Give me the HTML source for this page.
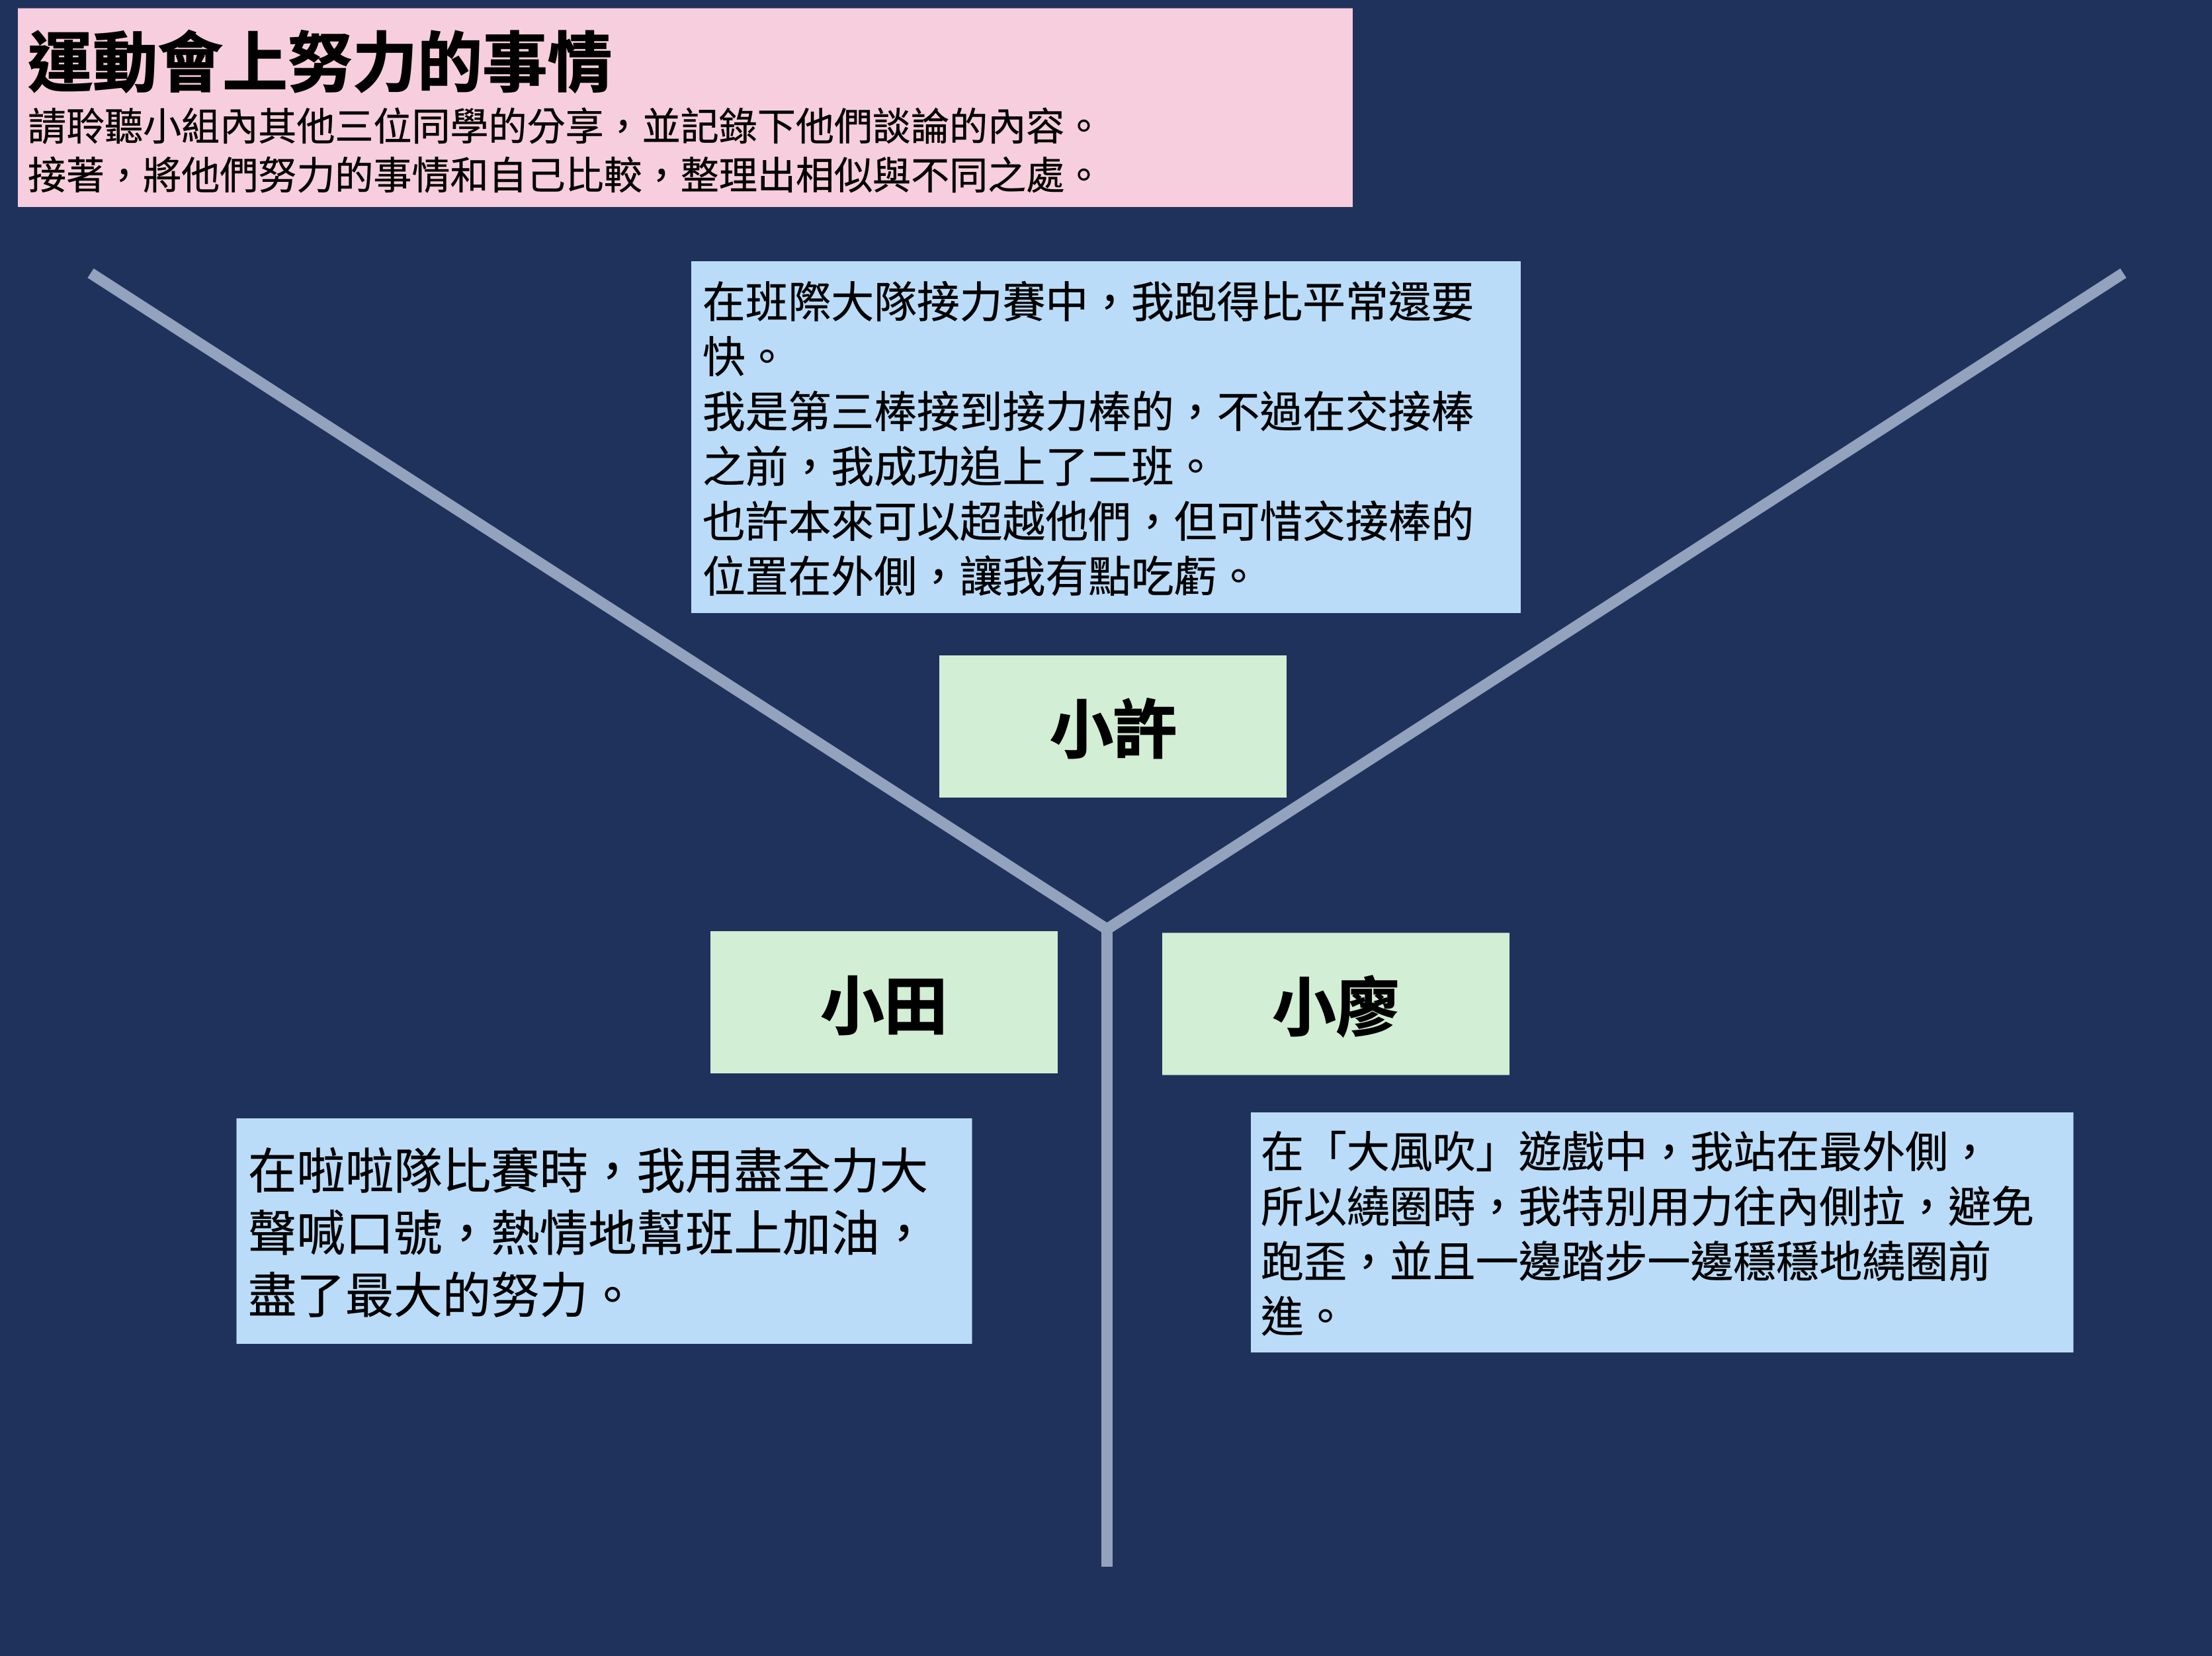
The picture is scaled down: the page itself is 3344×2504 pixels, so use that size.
<!DOCTYPE html>
<html lang="zh-Hant"><head><meta charset="utf-8"><title>運動會上努力的事情</title>
<style>
html,body{margin:0;padding:0;background:#1f325c;width:3344px;height:2504px;overflow:hidden}
svg{display:block}
text{font-family:"Liberation Sans","Noto Sans CJK TC",sans-serif;fill:#000;stroke:#000;stroke-width:.5px}
.t{font-size:64.8px}
.r{font-size:64.95px}
.l{font-size:73.45px}
.s{font-size:58.05px}
.b{font-size:98.2px;font-weight:700;stroke-width:1.6px}
.n{font-size:96px;font-weight:700;stroke-width:1.6px}
</style></head><body>
<svg xmlns="http://www.w3.org/2000/svg" width="3344" height="2504" viewBox="0 0 3344 2504">
<rect width="3344" height="2504" fill="#1f325c"/>
<g stroke="#93a3bd" stroke-width="17" fill="none">
<line x1="137" y1="413" x2="1673.5" y2="1405"/>
<line x1="3210" y1="413" x2="1673.5" y2="1405"/>
<line x1="1673.5" y1="1405" x2="1673.5" y2="2369"/>
</g>
<rect x="27" y="12.5" width="2018" height="300.5" fill="#f7cedd"/>
<text class="b" x="42" y="130">運動會上努力的事情</text>
<text class="s" x="42" y="212">請聆聽小組內其他三位同學的分享，並記錄下他們談論的內容。</text>
<text class="s" x="42" y="286">接著，將他們努力的事情和自己比較，整理出相似與不同之處。</text>

<rect x="1045" y="395" width="1254" height="532" fill="#badcf8"/>
<text class="t" x="1062" y="480">在班際大隊接力賽中，我跑得比平常還要</text>
<text class="t" x="1062" y="563">快。</text>
<text class="t" x="1062" y="646">我是第三棒接到接力棒的，不過在交接棒</text>
<text class="t" x="1062" y="729">之前，我成功追上了二班。</text>
<text class="t" x="1062" y="812">也許本來可以超越他們，但可惜交接棒的</text>
<text class="t" x="1062" y="895">位置在外側，讓我有點吃虧。</text>

<rect x="1420" y="991" width="525" height="215" fill="#d2eed4"/>
<text class="n" x="1683" y="1138" text-anchor="middle">小許</text>
<rect x="1074" y="1408" width="525" height="215" fill="#d2eed4"/>
<text class="n" x="1336.5" y="1556" text-anchor="middle">小田</text>
<rect x="1757" y="1410.5" width="525" height="215" fill="#d2eed4"/>
<text class="n" x="2019.5" y="1558" text-anchor="middle">小廖</text>

<rect x="357.5" y="1691" width="1112" height="341" fill="#badcf8"/>
<text class="l" x="375" y="1797">在啦啦隊比賽時，我用盡全力大</text>
<text class="l" x="375" y="1891">聲喊口號，熱情地幫班上加油，</text>
<text class="l" x="375" y="1985">盡了最大的努力。</text>

<rect x="1891" y="1682" width="1243.5" height="363" fill="#badcf8"/>
<text class="r" x="1906" y="1765">在「大風吹」遊戲中，我站在最外側，</text>
<text class="r" x="1906" y="1848">所以繞圈時，我特別用力往內側拉，避免</text>
<text class="r" x="1906" y="1931">跑歪，並且一邊踏步一邊穩穩地繞圈前</text>
<text class="r" x="1906" y="2014">進。</text>
</svg>
</body></html>
